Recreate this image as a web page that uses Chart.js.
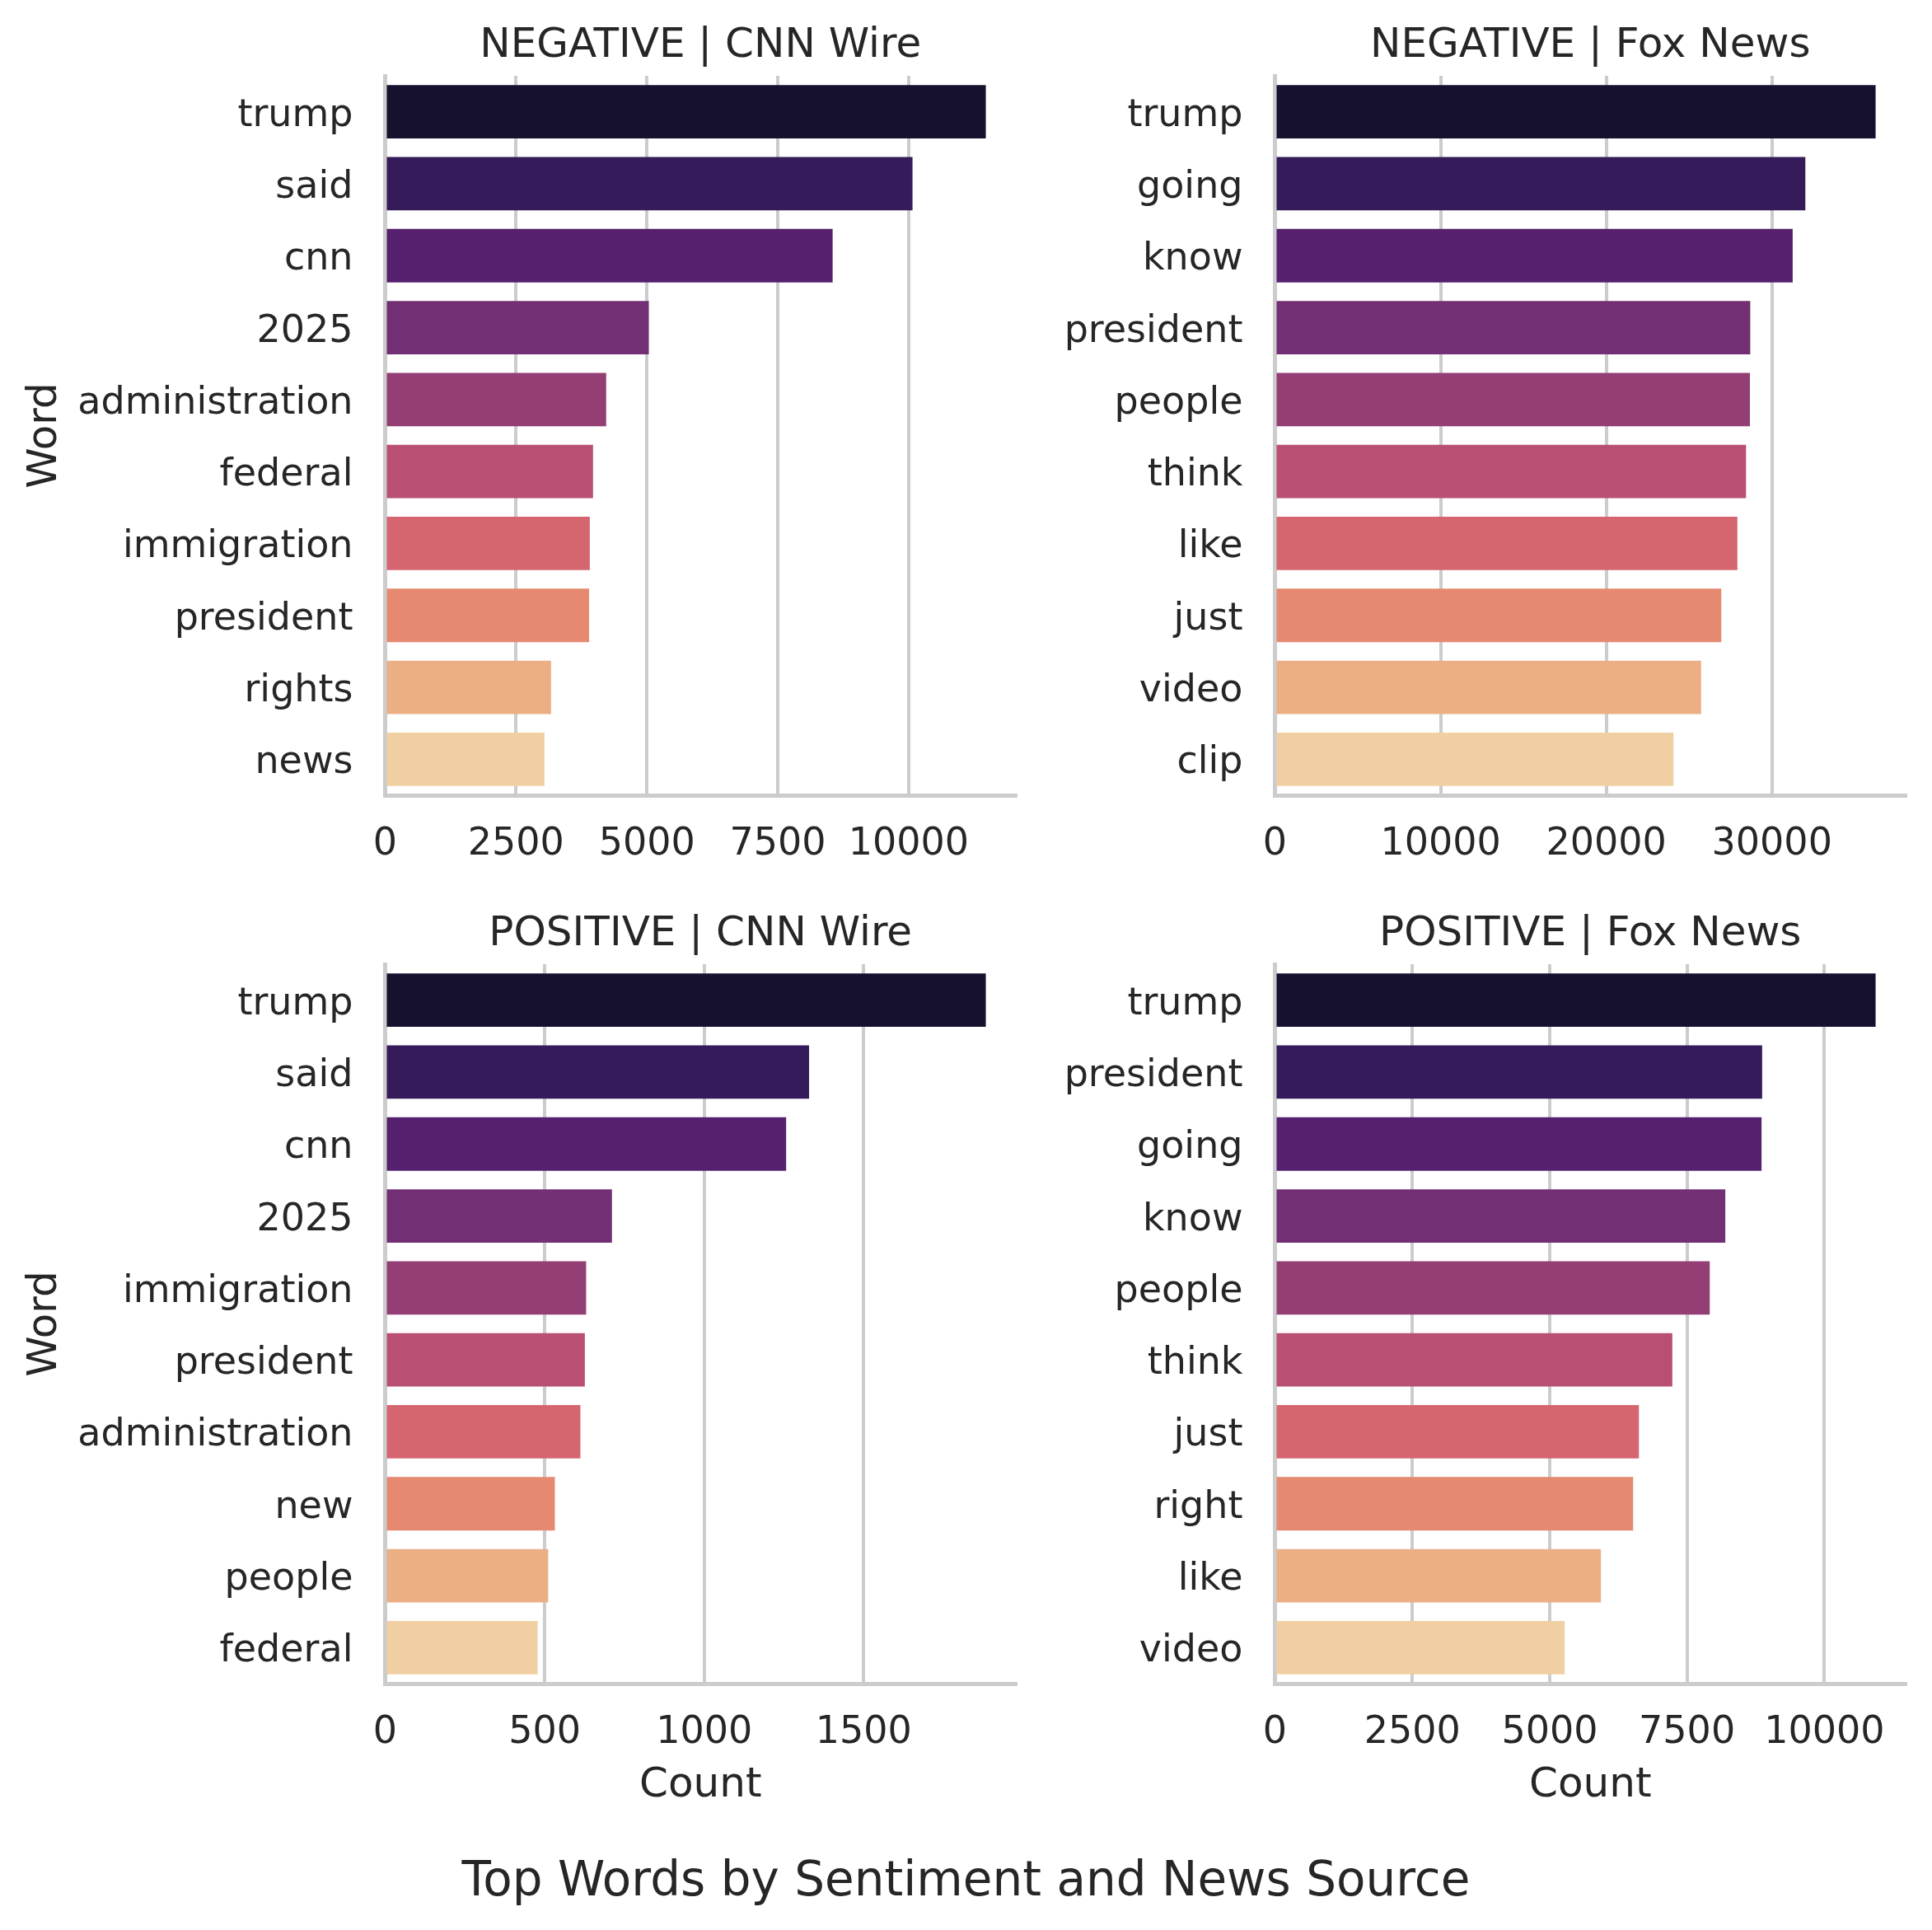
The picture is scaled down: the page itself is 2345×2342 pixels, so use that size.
<!DOCTYPE html>
<html>
<head>
<meta charset="utf-8">
<script src="https://cdn.jsdelivr.net/npm/chart.js@4.4.1/dist/chart.umd.min.js"></script>
<style>
  html, body { margin: 0; padding: 0; background: #ffffff; }
  body { width: 2345px; height: 2342px; position: relative; overflow: hidden; }
  .panel { position: absolute; }
  #suptitle {
    position: absolute; left: 0; width: 2345px; top: 2251px;
    text-align: center; font: 58px/58px 'DejaVu Sans', sans-serif; color: #262626;
  }
</style>
</head>
<body>
<div class="panel" style="left:0;top:0;width:1250px;height:1100px"><canvas id="negCnn"></canvas></div>
<div class="panel" style="left:1250px;top:0;width:1095px;height:1100px"><canvas id="negFox"></canvas></div>
<div class="panel" style="left:0;top:1078px;width:1250px;height:1130px"><canvas id="posCnn"></canvas></div>
<div class="panel" style="left:1250px;top:1078px;width:1095px;height:1130px"><canvas id="posFox"></canvas></div>
<div id="suptitle">Top Words by Sentiment and News Source</div>
<script>
// ---- DATA ----
const NEG_CNN_WORDS = ['trump', 'said', 'cnn', '2025', 'administration', 'federal', 'immigration', 'president', 'rights', 'news'];
const NEG_CNN_COUNTS = [11474, 10074, 8548, 5037, 4222, 3971, 3909, 3896, 3169, 3043];
const NEG_CNN_TICKS = [0, 2500, 5000, 7500, 10000];

const NEG_FOX_WORDS = ['trump', 'going', 'know', 'president', 'people', 'think', 'like', 'just', 'video', 'clip'];
const NEG_FOX_COUNTS = [36257, 32016, 31251, 28690, 28670, 28436, 27914, 26941, 25724, 24056];
const NEG_FOX_TICKS = [0, 10000, 20000, 30000];

const POS_CNN_WORDS = ['trump', 'said', 'cnn', '2025', 'immigration', 'president', 'administration', 'new', 'people', 'federal'];
const POS_CNN_COUNTS = [1883, 1329, 1257, 711, 630, 626, 612, 532, 511, 478];
const POS_CNN_TICKS = [0, 500, 1000, 1500];

const POS_FOX_WORDS = ['trump', 'president', 'going', 'know', 'people', 'think', 'just', 'right', 'like', 'video'];
const POS_FOX_COUNTS = [10933, 8868, 8857, 8197, 7914, 7233, 6625, 6520, 5933, 5273];
const POS_FOX_TICKS = [0, 2500, 5000, 7500, 10000];

// magma palette, desaturated like seaborn bars
const MAGMA = ['#15112f', '#351b5a', '#55206e', '#722f74', '#933e74',
               '#b94f73', '#d56670', '#e58a71', '#ecae84', '#f0d0a2'];

Chart.defaults.font.family = "'DejaVu Sans', sans-serif";
Chart.defaults.color = '#262626';

// draw one facet
function drawPanel(id, title, words, counts, ticks, opt) {
    const ctx = document.getElementById(id);
    return new Chart(ctx, {
        type: 'bar',
        data: {
            labels: words,
            datasets: [{
                data: counts,
                backgroundColor: MAGMA,
                borderWidth: 0,
                barPercentage: 0.742,
                categoryPercentage: 1.0
            }]
        },
        options: {
            indexAxis: 'y',
            responsive: true,
            maintainAspectRatio: false,
            animation: false,
            devicePixelRatio: 1,
            layout: { padding: { left: 0, top: 0, right: opt.padRight, bottom: 0 } },
            plugins: {
                legend: { display: false },
                tooltip: { enabled: false },
                title: {
                    display: true,
                    text: title,
                    fullSize: false,
                    font: { size: 50, weight: 'normal' },
                    color: '#262626',
                    padding: { top: 26, bottom: 6 }
                }
            },
            scales: {
                x: {
                    type: 'linear',
                    min: 0,
                    max: Math.max(...counts) * 1.05,
                    afterBuildTicks: s => { s.ticks = ticks.map(v => ({ value: v })); },
                    afterFit: s => { s.height = opt.xHeight; },
                    ticks: {
                        font: { size: 46 },
                        color: '#262626',
                        padding: 32,
                        maxRotation: 0,
                        autoSkip: false,
                        callback: v => String(v)
                    },
                    grid: { color: '#cccccc', lineWidth: 4, drawTicks: false },
                    border: { display: true, color: '#cccccc', width: 5 },
                    title: {
                        display: opt.showCount,
                        text: 'Count',
                        font: { size: 50 },
                        color: '#262626',
                        padding: { top: 0, bottom: 11 }
                    }
                },
                y: {
                    type: 'category',
                    afterFit: s => { s.width = opt.yWidth; },
                    ticks: {
                        font: { size: 46 },
                        color: '#262626',
                        padding: 39,
                        labelOffset: 5,
                        autoSkip: false
                    },
                    grid: { display: false, drawTicks: false },
                    border: { display: true, color: '#cccccc', width: 5 },
                    title: {
                        display: opt.showWord,
                        text: 'Word',
                        font: { size: 50 },
                        color: '#262626',
                        padding: { top: 25, bottom: 0 }
                    }
                }
            }
        }
    });
}

drawPanel('negCnn', 'NEGATIVE | CNN Wire', NEG_CNN_WORDS, NEG_CNN_COUNTS, NEG_CNN_TICKS,
    { yWidth: 467.5, xHeight: 135, padRight: 17, showWord: true, showCount: false });
drawPanel('negFox', 'NEGATIVE | Fox News', NEG_FOX_WORDS, NEG_FOX_COUNTS, NEG_FOX_TICKS,
    { yWidth: 297.5, xHeight: 135, padRight: 32, showWord: false, showCount: false });
drawPanel('posCnn', 'POSITIVE | CNN Wire', POS_CNN_WORDS, POS_CNN_COUNTS, POS_CNN_TICKS,
    { yWidth: 467.5, xHeight: 165, padRight: 17, showWord: true, showCount: true });
drawPanel('posFox', 'POSITIVE | Fox News', POS_FOX_WORDS, POS_FOX_COUNTS, POS_FOX_TICKS,
    { yWidth: 297.5, xHeight: 165, padRight: 32, showWord: false, showCount: true });
</script>
</body>
</html>
